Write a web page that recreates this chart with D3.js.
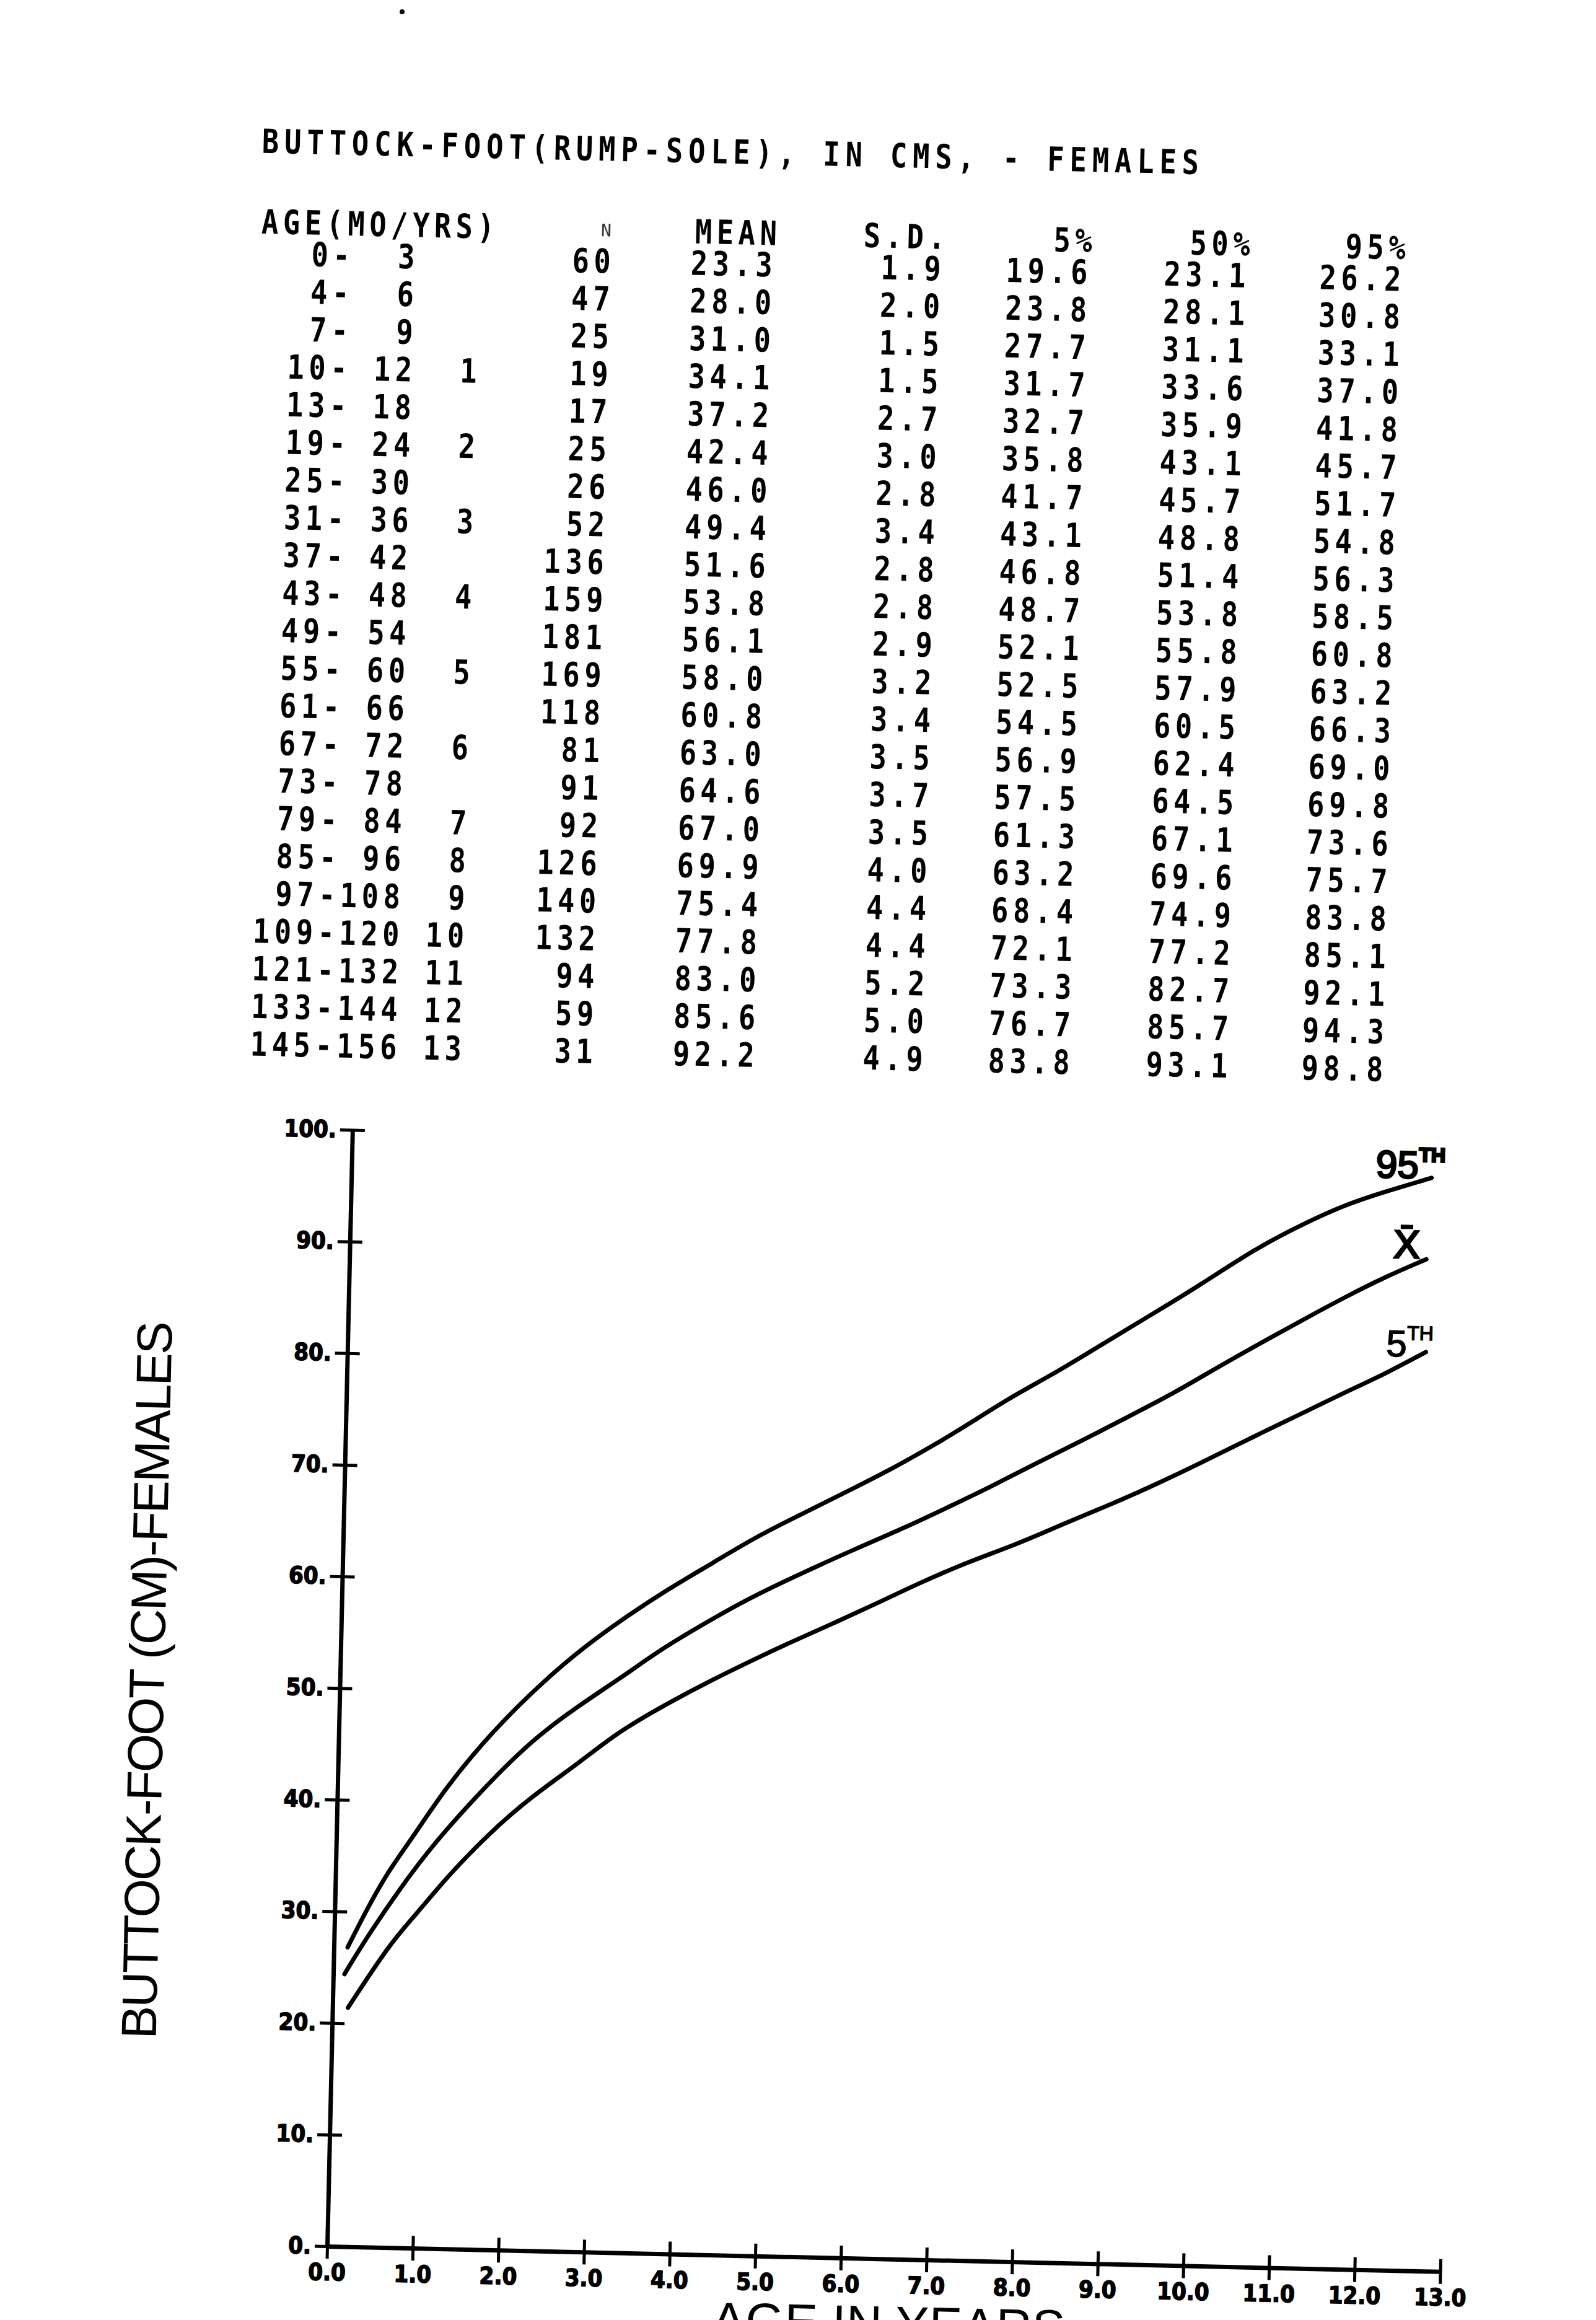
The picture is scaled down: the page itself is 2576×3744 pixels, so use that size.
<!DOCTYPE html>
<html>
<head>
<meta charset="utf-8">
<script src="https://cdn.jsdelivr.net/npm/d3@7/dist/d3.min.js"></script>
<style>
  body { margin: 0; background: #fff; }
</style>
</head>
<body>
<div id="chart"></div>
<script>
// table values
const ageFrom = [0, 4, 7, 10, 13, 19, 25, 31, 37, 43, 49, 55, 61, 67, 73, 79, 85, 97, 109, 121, 133, 145];
const ageTo = [3, 6, 9, 12, 18, 24, 30, 36, 42, 48, 54, 60, 66, 72, 78, 84, 96, 108, 120, 132, 144, 156];
const ageYears = ["", "", "", "1", "", "2", "", "3", "", "4", "", "5", "", "6", "", "7", "8", "9", "10", "11", "12", "13"];
const nCount = [60, 47, 25, 19, 17, 25, 26, 52, 136, 159, 181, 169, 118, 81, 91, 92, 126, 140, 132, 94, 59, 31];
const meanCm = [23.3, 28.0, 31.0, 34.1, 37.2, 42.4, 46.0, 49.4, 51.6, 53.8, 56.1, 58.0, 60.8, 63.0, 64.6, 67.0, 69.9, 75.4, 77.8, 83.0, 85.6, 92.2];
const sdCm = [1.9, 2.0, 1.5, 1.5, 2.7, 3.0, 2.8, 3.4, 2.8, 2.8, 2.9, 3.2, 3.4, 3.5, 3.7, 3.5, 4.0, 4.4, 4.4, 5.2, 5.0, 4.9];
const pct5Cm = [19.6, 23.8, 27.7, 31.7, 32.7, 35.8, 41.7, 43.1, 46.8, 48.7, 52.1, 52.5, 54.5, 56.9, 57.5, 61.3, 63.2, 68.4, 72.1, 73.3, 76.7, 83.8];
const pct50Cm = [23.1, 28.1, 31.1, 33.6, 35.9, 43.1, 45.7, 48.8, 51.4, 53.8, 55.8, 57.9, 60.5, 62.4, 64.5, 67.1, 69.6, 74.9, 77.2, 82.7, 85.7, 93.1];
const pct95Cm = [26.2, 30.8, 33.1, 37.0, 41.8, 45.7, 51.7, 54.8, 56.3, 58.5, 60.8, 63.2, 66.3, 69.0, 69.8, 73.6, 75.7, 83.8, 85.1, 92.1, 94.3, 98.8];

// smoothed curves as drawn on the chart (age in years, cm)
const curve95Age = [0.16, 0.39, 0.63, 0.91, 1.27, 1.80, 2.37, 2.86, 3.31, 3.80, 4.33, 4.82, 5.39, 5.96, 6.40, 6.88, 7.27, 7.71, 8.23, 8.58, 9.11, 9.46, 9.89, 10.59, 11.12, 11.60, 12.08, 12.61];
const curve95Cm = [26.8, 30.5, 33.9, 37.0, 41.4, 46.5, 51.0, 54.3, 56.9, 59.5, 62.0, 64.4, 66.7, 69.0, 70.8, 73.0, 74.9, 77.2, 79.5, 81.2, 83.8, 85.5, 87.6, 91.3, 93.5, 95.3, 96.6, 97.9];
const curveMeanAge = [0.13, 0.40, 0.88, 1.26, 1.81, 2.30, 2.79, 3.32, 3.73, 4.34, 4.83, 5.57, 5.98, 6.55, 7.07, 7.51, 8.08, 8.61, 9.13, 9.66, 10.18, 10.71, 11.23, 11.62, 12.11, 12.57];
const curveMeanCm = [24.4, 28.0, 33.6, 37.4, 42.2, 46.0, 48.9, 51.7, 54.1, 57.0, 59.2, 62.0, 63.5, 65.5, 67.5, 69.2, 71.6, 73.7, 75.9, 78.1, 80.6, 83.0, 85.3, 87.0, 89.0, 90.6];
const curve5Age = [0.18, 0.65, 0.93, 1.30, 1.78, 2.27, 2.80, 3.25, 3.83, 4.32, 4.85, 5.30, 5.80, 6.28, 6.74, 7.31, 7.88, 8.41, 8.98, 9.50, 9.94, 10.38, 11.12, 11.65, 12.13, 12.59];
const curve5Cm = [21.4, 27.2, 29.7, 33.3, 37.3, 40.7, 43.7, 46.6, 49.3, 51.4, 53.5, 55.2, 57.0, 58.8, 60.6, 62.6, 64.3, 66.2, 68.1, 70.0, 71.7, 73.5, 76.4, 78.5, 80.3, 82.3];

// tick values for the two axes
const xTicks = d3.range(0, 14);
const yTicks = d3.range(0, 101, 10);

const width = 2576, height = 3744;
const monoFont = "'DejaVu Sans Mono', 'Liberation Mono', monospace";
const tickFont = "'DejaVu Sans Condensed', 'DejaVu Sans', sans-serif";
const plotFont = "'Liberation Sans Narrow', 'Liberation Sans', sans-serif";
const handFont = "'Liberation Sans Narrow', 'Liberation Sans', sans-serif";

const svg = d3.select("#chart").append("svg")
  .attr("width", width)
  .attr("height", height);

svg.append("rect").attr("width", width).attr("height", height).attr("fill", "#fff");

// little speck at the top of the scan
svg.append("circle").attr("cx", 649).attr("cy", 19).attr("r", 4).attr("fill", "#000");

// the scanned page sits a little crooked, so the whole sheet is turned about the plot origin
const page = svg.append("g").attr("transform", "rotate(1.3, 528, 3625)");

// ---- printed table ----
// line printer type: tall, narrow, bold. glyphs are squeezed sideways with scale()
const sx = 0.84, fs = 54, ls = 9;
const table = page.append("g").attr("fill", "#000");

const printText = (parent, px, py, anchor) => parent.append("text")
  .attr("transform", `translate(${px}, ${py}) scale(${sx}, 1)`)
  .attr("text-anchor", anchor)
  .style("font-family", monoFont).style("font-weight", "bold")
  .style("font-size", fs + "px").style("letter-spacing", ls + "px");

printText(table, 346, 250, "start")
  .attr("textLength", 1520 / sx).attr("lengthAdjust", "spacing")
  .text("BUTTOCK-FOOT(RUMP-SOLE), IN CMS, - FEMALES");

const rowTop = 431, rowStep = 60.75;

// header line
printText(table, 348, 380, "start").text("AGE(MO/YRS)");
table.append("text").attr("x", 913).attr("y", 372).attr("text-anchor", "end")
  .style("font-family", monoFont).style("font-size", "28px").attr("fill", "#333").text("N");

const columns = [
  {head: "MEAN", right: 1180, values: meanCm},
  {head: "S.D.", right: 1452, values: sdCm},
  {head: "5%", right: 1689, values: pct5Cm},
  {head: "50%", right: 1944, values: pct50Cm},
  {head: "95%", right: 2195, values: pct95Cm}
];

columns.forEach(c => printText(table, c.right + ls * sx, 380, "end").text(c.head));

const fmt1 = d3.format(".1f");
ageFrom.forEach((a, i) => {
  const yy = rowTop + i * rowStep;
  printText(table, 360, yy, "start")
    .attr("xml:space", "preserve").style("white-space", "pre")
    .text(`${String(ageFrom[i]).padStart(3)}-${String(ageTo[i]).padStart(3)} ${ageYears[i].padStart(2)}`);
  printText(table, 913 + ls * sx, yy, "end").text(nCount[i]);
  columns.forEach(c => printText(table, c.right - 6 + ls * sx, yy, "end").text(fmt1(c.values[i])));
});

// ---- growth chart ----
const x = d3.scaleLinear().domain([0, 13]).range([528, 2325]);
const y = d3.scaleLinear().domain([0, 100]).range([3625, 1823]);

const xAxis = page.append("g")
  .attr("transform", `translate(0, ${y(0)})`)
  .call(d3.axisBottom(x).tickValues(xTicks).tickFormat(d3.format(".1f"))
    .tickSize(20).tickSizeOuter(0).tickPadding(8));

const yAxis = page.append("g")
  .attr("transform", `translate(${x(0)}, 0)`)
  .call(d3.axisLeft(y).tickValues(yTicks).tickFormat(d => d + ".")
    .tickSize(20).tickSizeOuter(0).tickPadding(6));

[xAxis, yAxis].forEach(a => {
  a.select(".domain").attr("stroke", "#000").attr("stroke-width", 7);
  a.selectAll(".tick line").attr("stroke", "#000").attr("stroke-width", 5);
  a.selectAll(".tick text")
    .attr("fill", "#000").attr("stroke", "#000").attr("stroke-width", 1.5)
    .style("font-family", tickFont).style("font-weight", "bold").style("font-size", "38px");
});
// ticks cross the axis line
xAxis.selectAll(".tick line").attr("y1", -20).attr("y2", 20);
yAxis.selectAll(".tick line").attr("x1", -20).attr("x2", 20);

const line = d3.line()
  .x(d => x(d[0]))
  .y(d => y(d[1]))
  .curve(d3.curveBasis);

const series = [
  {name: "p95", pts: d3.zip(curve95Age, curve95Cm)},
  {name: "mean", pts: d3.zip(curveMeanAge, curveMeanCm)},
  {name: "p5", pts: d3.zip(curve5Age, curve5Cm)}
];

page.append("g").selectAll("path")
  .data(series)
  .enter().append("path")
  .attr("class", d => "curve " + d.name)
  .attr("d", d => line(d.pts))
  .attr("fill", "none")
  .attr("stroke", "#000")
  .attr("stroke-width", 7)
  .attr("stroke-linecap", "round")
  .attr("stroke-linejoin", "round");

// hand lettered curve labels
const labels = page.append("g").attr("fill", "#000").attr("stroke", "#000")
  .style("font-family", handFont);

const l95 = labels.append("text").attr("x", 2181).attr("y", 1862)
  .attr("stroke-width", 3).style("font-size", "62px");
l95.append("tspan").text("95");
l95.append("tspan").attr("dy", -27).style("font-size", "32px").style("font-weight", "bold").text("TH");

labels.append("text").attr("x", 2212).attr("y", 1991).attr("stroke-width", 3)
  .style("font-size", "64px").text("X\u0304");

const l5 = labels.append("text").attr("x", 2204).attr("y", 2150)
  .attr("stroke-width", 1.5).style("font-size", "60px");
l5.append("tspan").text("5");
l5.append("tspan").attr("dy", -27).style("font-size", "32px").text("TH");

// axis titles
page.append("text")
  .attr("transform", "translate(244, 2718) rotate(-90)")
  .attr("text-anchor", "middle")
  .attr("textLength", 1158).attr("lengthAdjust", "spacing")
  .style("font-family", plotFont).style("font-size", "80px")
  .text("BUTTOCK-FOOT (CM)-FEMALES");

page.append("text")
  .attr("x", 1437).attr("y", 3757)
  .attr("text-anchor", "middle")
  .attr("textLength", 570).attr("lengthAdjust", "spacing")
  .style("font-family", plotFont).style("font-size", "80px")
  .text("AGE IN YEARS");
</script>
</body>
</html>
